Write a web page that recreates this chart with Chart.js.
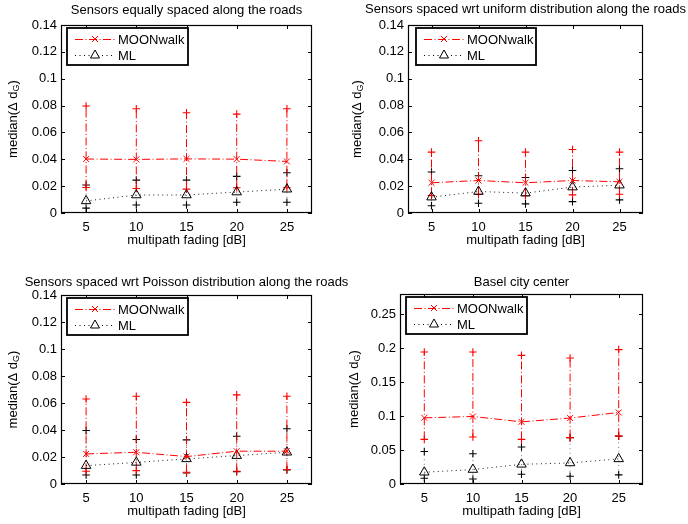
<!DOCTYPE html>
<html>
<head>
<meta charset="utf-8">
<script src="https://cdn.jsdelivr.net/npm/chart.js@4.4.0/dist/chart.umd.min.js"></script>
<style>
  html, body { margin: 0; padding: 0; background: #fff; }
  #wrap { position: relative; width: 688px; height: 524px; }
  #wrap canvas { position: absolute; left: 0; top: 0; }
</style>
</head>
<body>
<div id="wrap">
  <canvas id="c1" width="688" height="524"></canvas>
  <canvas id="c2" width="688" height="524"></canvas>
  <canvas id="c3" width="688" height="524"></canvas>
  <canvas id="c4" width="688" height="524"></canvas>
</div>
<script>
// x values (multipath fading, dB)
const fading = [5, 10, 15, 20, 25];
const xTicks = [5, 10, 15, 20, 25];
const yTicksRoads = [0, 0.02, 0.04, 0.06, 0.08, 0.1, 0.12, 0.14];
const yTicksBasel = [0, 0.05, 0.1, 0.15, 0.2, 0.25];

// equally spaced
const eqMoonMed = [0.0402, 0.0399, 0.0403, 0.0401, 0.0384];
const eqMoonLo  = [0.0190, 0.0183, 0.0178, 0.0188, 0.0188];
const eqMoonHi  = [0.0797, 0.0776, 0.0746, 0.0736, 0.0776];
const eqMlMed   = [0.0090, 0.0134, 0.0134, 0.0156, 0.0177];
const eqMlLo    = [0.0036, 0.0060, 0.0060, 0.0080, 0.0080];
const eqMlHi    = [0.0208, 0.0245, 0.0245, 0.0273, 0.0300];

// uniform distribution
const unMoonMed = [0.0225, 0.0242, 0.0225, 0.0242, 0.0232];
const unMoonLo  = [0.0130, 0.0140, 0.0128, 0.0135, 0.0140];
const unMoonHi  = [0.0453, 0.0538, 0.0453, 0.0473, 0.0453];
const unMlMed   = [0.0118, 0.0160, 0.0148, 0.0193, 0.0207];
const unMlLo    = [0.0054, 0.0073, 0.0068, 0.0085, 0.0098];
const unMlHi    = [0.0305, 0.0277, 0.0264, 0.0317, 0.0330];

// Poisson distribution
const poMoonMed = [0.0223, 0.0235, 0.0203, 0.0243, 0.0243];
const poMoonLo  = [0.0094, 0.0099, 0.0087, 0.0094, 0.0107];
const poMoonHi  = [0.0630, 0.0650, 0.0605, 0.0660, 0.0650];
const poMlMed   = [0.0136, 0.0160, 0.0186, 0.0210, 0.0235];
const poMlLo    = [0.0067, 0.0067, 0.0082, 0.0092, 0.0105];
const poMlHi    = [0.0396, 0.0330, 0.0327, 0.0354, 0.0409];

// Basel city center
const baMoonMed = [0.0975, 0.0995, 0.0916, 0.0972, 0.1054];
const baMoonLo  = [0.0658, 0.0693, 0.0658, 0.0683, 0.0705];
const baMoonHi  = [0.1946, 0.1946, 0.1896, 0.1856, 0.1980];
const baMlMed   = [0.0173, 0.0213, 0.0290, 0.0310, 0.0370];
const baMlLo    = [0.0084, 0.0074, 0.0144, 0.0114, 0.0134];
const baMlHi    = [0.0480, 0.0446, 0.0545, 0.0683, 0.0705];

Chart.defaults.font.family = '"Liberation Sans", Arial, Helvetica, sans-serif';
Chart.defaults.font.size = 13;
Chart.defaults.color = '#000';

const FONT = '13px "Liberation Sans", Arial, Helvetica, sans-serif';
const RED = '#ff0000';
const DASHDOT = [8, 2.5, 1, 2.5];
const DOTTED = [1, 3.5];

function medianPoints(med) {
  return fading.map((x, i) => ({ x: x, y: med[i] }));
}
function errorPoints(lo, hi) {
  const pts = [];
  fading.forEach((x, i) => {
    pts.push({ x: x, y: lo[i] }, { x: x, y: hi[i] }, { x: x, y: null });
  });
  return pts;
}

// box, inside ticks, titles, legend (matlab look)
const matlabDecor = {
  id: 'matlabDecor',
  afterDraw(chart, args, o) {
    const ctx = chart.ctx;
    const a = chart.chartArea;
    const xs = chart.scales.x, ys = chart.scales.y;
    ctx.save();
    ctx.strokeStyle = '#000';
    ctx.lineWidth = 1.2;
    ctx.setLineDash([]);
    ctx.strokeRect(a.left + 0.5, a.top + 0.5, a.right - a.left - 1, a.bottom - a.top - 1);
    ctx.lineWidth = 1;
    ctx.beginPath();
    xTicks.forEach(v => {
      const px = Math.round(xs.getPixelForValue(v)) + 0.5;
      ctx.moveTo(px, a.bottom); ctx.lineTo(px, a.bottom - 4);
      ctx.moveTo(px, a.top); ctx.lineTo(px, a.top + 4);
    });
    o.yTicks.forEach(v => {
      const py = Math.round(ys.getPixelForValue(v)) + 0.5;
      ctx.moveTo(a.left, py); ctx.lineTo(a.left + 4, py);
      ctx.moveTo(a.right, py); ctx.lineTo(a.right - 4, py);
    });
    ctx.stroke();

    const cx = (a.left + a.right) / 2;
    ctx.fillStyle = '#000';
    ctx.font = FONT;
    ctx.textAlign = 'center';
    ctx.textBaseline = 'middle';
    ctx.fillText(o.title, cx, a.top - o.titleDy);
    ctx.fillText('multipath fading [dB]', cx, a.bottom + 27);

    // y label with subscript G
    const cy = (a.top + a.bottom) / 2;
    ctx.translate(a.left - o.ylabelDx, cy);
    ctx.rotate(-Math.PI / 2);
    const main = 'median(\u0394 d';
    ctx.font = FONT;
    const w1 = ctx.measureText(main).width;
    ctx.font = '9px "Liberation Sans", Arial, sans-serif';
    const w2 = ctx.measureText('G').width;
    ctx.font = FONT;
    const w3 = ctx.measureText(')').width;
    let x0 = -(w1 + w2 + w3) / 2;
    ctx.textAlign = 'left';
    ctx.fillText(main, x0, 0);
    ctx.font = '9px "Liberation Sans", Arial, sans-serif';
    ctx.fillText('G', x0 + w1, 4);
    ctx.font = FONT;
    ctx.fillText(')', x0 + w1 + w2, 0);
    ctx.restore();

    // legend
    ctx.save();
    const lx = a.left + o.legend.dx, ly = a.top + 3;
    ctx.fillStyle = '#fff';
    ctx.fillRect(lx, ly, o.legend.w, 37);
    ctx.strokeStyle = '#000';
    ctx.lineWidth = 1.8;
    ctx.strokeRect(lx, ly, o.legend.w, 37);
    const rows = [
      { name: 'MOONwalk', color: RED, dash: DASHDOT, mark: 'x', y: ly + 11 },
      { name: 'ML', color: '#000', dash: DOTTED, mark: 'tri', y: ly + 27 }
    ];
    rows.forEach(r => {
      ctx.strokeStyle = r.color;
      ctx.lineWidth = 1;
      ctx.setLineDash(r.dash);
      ctx.beginPath();
      ctx.moveTo(lx + 8, r.y + 0.5);
      ctx.lineTo(lx + 48, r.y + 0.5);
      ctx.stroke();
      ctx.setLineDash([]);
      const mx = lx + 28;
      ctx.beginPath();
      if (r.mark === 'x') {
        ctx.moveTo(mx - 3, r.y - 3); ctx.lineTo(mx + 3, r.y + 3);
        ctx.moveTo(mx - 3, r.y + 3); ctx.lineTo(mx + 3, r.y - 3);
      } else {
        ctx.fillStyle = '#fff';
        ctx.moveTo(mx, r.y - 5); ctx.lineTo(mx + 4.5, r.y + 3); ctx.lineTo(mx - 4.5, r.y + 3);
        ctx.closePath();
        ctx.fill();
      }
      ctx.stroke();
      ctx.fillStyle = '#000';
      ctx.font = FONT;
      ctx.textAlign = 'left';
      ctx.textBaseline = 'middle';
      ctx.fillText(r.name, lx + 51, r.y + 1);
    });
    ctx.restore();
  }
};

function makeChart(id, p) {
  const datasets = [
    {
      label: 'MOONwalk',
      data: medianPoints(p.moonMed),
      borderColor: RED, borderWidth: 1, borderDash: DASHDOT,
      pointStyle: 'crossRot', pointRadius: 4.2, pointBorderColor: RED, pointBorderWidth: 1
    },
    {
      label: 'ML',
      data: medianPoints(p.mlMed),
      borderColor: '#000', borderWidth: 0.9, borderDash: DOTTED,
      pointStyle: 'triangle', pointRadius: 5.5, pointBorderColor: '#000',
      pointBackgroundColor: 'rgba(0,0,0,0)', pointBorderWidth: 1
    },
    {
      label: 'MOONwalk range',
      data: errorPoints(p.moonLo, p.moonHi),
      borderColor: RED, borderWidth: 1, borderDash: DASHDOT, spanGaps: false,
      pointStyle: 'cross', pointRadius: 3.8, pointBorderColor: RED, pointBorderWidth: 1.1
    },
    {
      label: 'ML range',
      data: errorPoints(p.mlLo, p.mlHi),
      borderColor: '#555', borderWidth: 0.8, borderDash: DOTTED, spanGaps: false,
      pointStyle: 'cross', pointRadius: 3.8, pointBorderColor: '#000', pointBorderWidth: 1.1
    }
  ];
  return new Chart(document.getElementById(id), {
    type: 'line',
    data: { datasets: datasets },
    options: {
      responsive: false,
      animation: false,
      devicePixelRatio: 1,
      layout: {
        padding: {
          left: p.area.l - 45,
          top: p.area.t,
          right: 688 - p.area.r,
          bottom: 524 - p.area.b - 30
        }
      },
      elements: { line: { tension: 0, fill: false } },
      scales: {
        x: {
          type: 'linear',
          min: 2.5, max: 27.5,
          grid: { display: false, drawTicks: false },
          border: { display: false },
          afterBuildTicks: s => { s.ticks = xTicks.map(v => ({ value: v })); },
          afterFit: s => { s.height = 30; },
          ticks: { padding: 7, maxRotation: 0 }
        },
        y: {
          min: 0, max: p.yMax,
          grid: { display: false, drawTicks: false },
          border: { display: false },
          afterBuildTicks: s => { s.ticks = p.yTicks.map(v => ({ value: v })); },
          afterFit: s => { s.width = 45; },
          ticks: {
            padding: 4,
            callback: v => String(+Number(v).toFixed(2))
          }
        }
      },
      plugins: {
        legend: { display: false },
        tooltip: { enabled: false },
        matlabDecor: {
          title: p.title, titleDy: p.titleDy, yTicks: p.yTicks,
          ylabelDx: p.ylabelDx, legend: p.legend
        }
      }
    },
    plugins: [matlabDecor]
  });
}

makeChart('c1', {
  title: 'Sensors equally spaced along the roads', titleDy: 15,
  area: { l: 61, t: 25, r: 312, b: 213 }, yMax: 0.14, yTicks: yTicksRoads, ylabelDx: 48,
  legend: { dx: 6, w: 121 },
  moonMed: eqMoonMed, moonLo: eqMoonLo, moonHi: eqMoonHi,
  mlMed: eqMlMed, mlLo: eqMlLo, mlHi: eqMlHi
});
makeChart('c2', {
  title: 'Sensors spaced wrt uniform distribution along the roads', titleDy: 16,
  area: { l: 408, t: 25, r: 643, b: 213 }, yMax: 0.14, yTicks: yTicksRoads, ylabelDx: 51,
  legend: { dx: 8, w: 120 },
  moonMed: unMoonMed, moonLo: unMoonLo, moonHi: unMoonHi,
  mlMed: unMlMed, mlLo: unMlLo, mlHi: unMlHi
});
makeChart('c3', {
  title: 'Sensors spaced wrt Poisson distribution along the roads', titleDy: 12.5,
  area: { l: 61, t: 295, r: 312, b: 484 }, yMax: 0.14, yTicks: yTicksRoads, ylabelDx: 48,
  legend: { dx: 6, w: 121 },
  moonMed: poMoonMed, moonLo: poMoonLo, moonHi: poMoonHi,
  mlMed: poMlMed, mlLo: poMlLo, mlHi: poMlHi
});
makeChart('c4', {
  title: 'Basel city center', titleDy: 12,
  area: { l: 400, t: 294, r: 643, b: 484 }, yMax: 0.28, yTicks: yTicksBasel, ylabelDx: 46,
  legend: { dx: 6, w: 121 },
  moonMed: baMoonMed, moonLo: baMoonLo, moonHi: baMoonHi,
  mlMed: baMlMed, mlLo: baMlLo, mlHi: baMlHi
});
</script>
</body>
</html>
